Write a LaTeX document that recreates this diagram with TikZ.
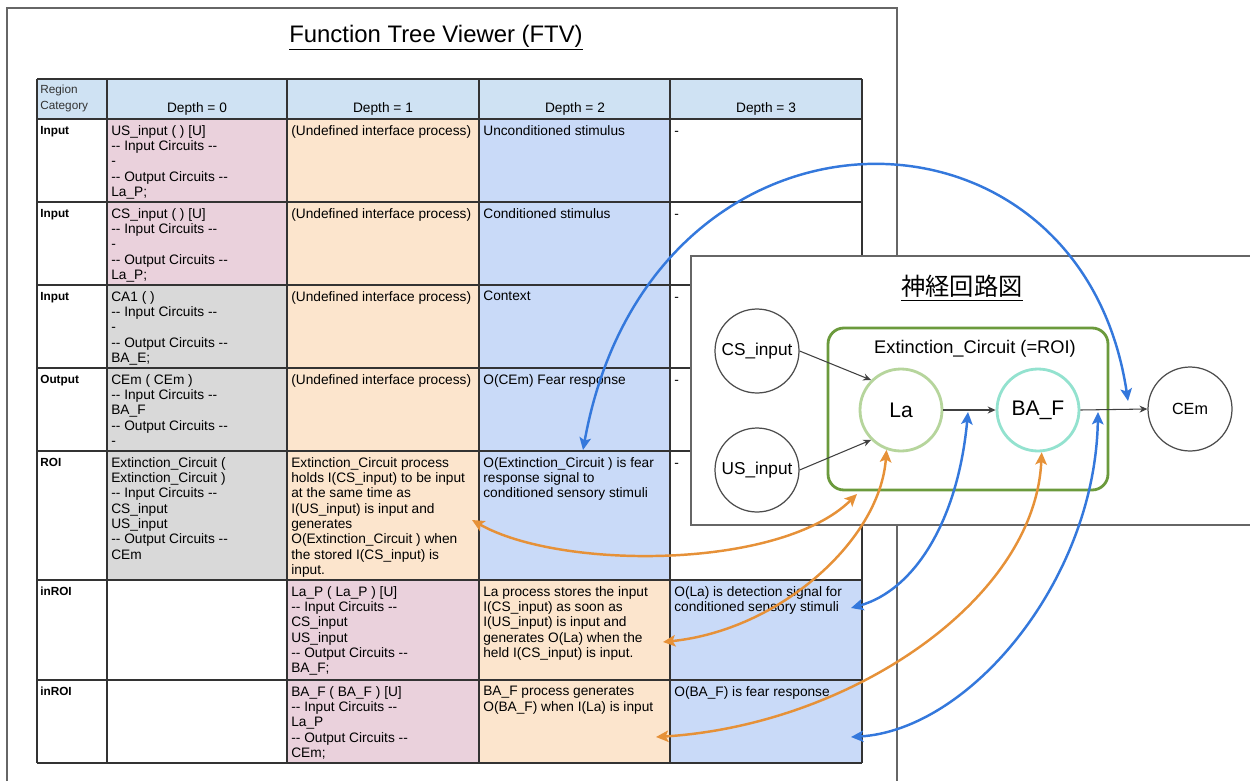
\documentclass[tikz,border=0pt]{standalone}
\usepackage{fontspec}
\setmainfont{Liberation Sans}
\newfontfamily\cjk{Noto Sans CJK JP}
\usetikzlibrary{arrows.meta}

\definecolor{hdrblue}{HTML}{CFE2F3}
\definecolor{cellpink}{HTML}{EAD1DC}
\definecolor{cellorange}{HTML}{FCE5CD}
\definecolor{cellblue}{HTML}{C9DAF8}
\definecolor{cellgray}{HTML}{D9D9D9}
\definecolor{linkblue}{HTML}{3478DC}
\definecolor{linkorange}{HTML}{E69138}
\definecolor{roigreen}{HTML}{6B9A3C}
\definecolor{lagreen}{HTML}{B6D59C}
\definecolor{bafteal}{HTML}{93E2CF}

% two hyphens without the en-dash ligature
\newcommand{\dsh}{-\kern0pt-}

\begin{document}
\begin{tikzpicture}[x=0.02cm, y=-0.02cm,
    cell/.style={anchor=north west, inner sep=0pt, align=left, font=\fontsize{7.8}{8.7}\selectfont},
    cat/.style={anchor=north west, inner sep=0pt, font=\fontsize{6.7}{8}\selectfont\bfseries},
    head/.style={inner sep=0pt, font=\fontsize{7.8}{8.7}\selectfont},
    grid/.style={draw=black!80, line width=0.75pt},
    frame/.style={draw=black!60, line width=1.1pt},
    io/.style={circle, draw=black!70, line width=0.7pt, minimum size=1.68cm, inner sep=0pt, font=\fontsize{9.8}{11}\selectfont},
    proc/.style={circle, line width=1.6pt, minimum size=1.64cm, inner sep=0pt, font=\fontsize{12}{14}\selectfont},
    link/.style={draw=black!75, line width=0.6pt, -{Stealth[length=4.5pt,width=4pt]}},
    bluearr/.style={draw=linkblue, line width=1.4pt, <->, >={Stealth[length=7pt,width=6.5pt,inset=1.5pt]}},
    orangearr/.style={draw=linkorange, line width=1.4pt, <->, >={Stealth[length=7pt,width=6.5pt,inset=1.5pt]}}]
    \useasboundingbox (0,0) rectangle (1250,781);

    % Rahmen und Titel
    \draw[frame] (7,781) -- (7,8) -- (897,8) -- (897,781);
    \node (title) at (436,38) {\fontsize{13.6}{16}\selectfont\underline{Function Tree Viewer (FTV)}};

    % Zellfarben
    \fill[hdrblue] (37,79) rectangle (862,119);
    \fill[cellpink] (107,119) rectangle (287,285);
    \fill[cellgray] (107,285) rectangle (287,580);
    \fill[cellorange] (287,119) rectangle (479,580);
    \fill[cellpink] (287,580) rectangle (479,763);
    \fill[cellblue] (479,119) rectangle (670,580);
    \fill[cellorange] (479,580) rectangle (670,763);
    \fill[cellblue] (670,580) rectangle (862,763);

    % Gitter
    \foreach \x in {37,107,287,479,670,862}
        \draw[grid] (\x,79) -- (\x,763);
    \foreach \y in {79,119,202,285,368,451,580,680,763}
        \draw[grid] (37,\y) -- (862,\y);

    % Kopfzeile
    \node[anchor=north west, inner sep=0pt, align=left, text=black!80, font=\fontsize{6.7}{9}\selectfont] (hcat) at (40,85) {Region\\Category};
    \node[head] (hd0) at (197,109) {Depth = 0};
    \node[head] (hd1) at (383,109) {Depth = 1};
    \node[head] (hd2) at (575,109) {Depth = 2};
    \node[head] (hd3) at (766,109) {Depth = 3};

    % Zeile 1
    \node[cat] (r1c1) at (40,126) {Input};
    \node[cell] (r1c2) at (111,125) {US\_input ( ) [U]\\\dsh{} Input Circuits \dsh\\-\\\dsh{} Output Circuits \dsh\\La\_P;};
    \node[cell] (r1c3) at (291,125) {(Undefined interface process)};
    \node[cell] (r1c4) at (483,125) {Unconditioned stimulus};
    \node[cell] (r1c5) at (674,125) {\vphantom{(}-};

    % Zeile 2
    \node[cat] (r2c1) at (40,209) {Input};
    \node[cell] (r2c2) at (111,208) {CS\_input ( ) [U]\\\dsh{} Input Circuits \dsh\\-\\\dsh{} Output Circuits \dsh\\La\_P;};
    \node[cell] (r2c3) at (291,208) {(Undefined interface process)};
    \node[cell] (r2c4) at (483,208) {Conditioned stimulus};
    \node[cell] (r2c5) at (674,208) {\vphantom{(}-};

    % Zeile 3
    \node[cat] (r3c1) at (40,292) {Input};
    \node[cell] (r3c2) at (111,291) {CA1 ( )\\\dsh{} Input Circuits \dsh\\-\\\dsh{} Output Circuits \dsh\\BA\_E;};
    \node[cell] (r3c3) at (291,291) {(Undefined interface process)};
    \node[cell] (r3c4) at (483,291) {Context};
    \node[cell] (r3c5) at (674,291) {\vphantom{(}-};

    % Zeile 4
    \node[cat] (r4c1) at (40,375) {Output};
    \node[cell] (r4c2) at (111,374) {CEm ( CEm )\\\dsh{} Input Circuits \dsh\\BA\_F\\\dsh{} Output Circuits \dsh\\-};
    \node[cell] (r4c3) at (291,374) {(Undefined interface process)};
    \node[cell] (r4c4) at (483,374) {O(CEm) Fear response};
    \node[cell] (r4c5) at (674,374) {\vphantom{(}-};

    % Zeile 5
    \node[cat] (r5c1) at (40,458) {ROI};
    \node[cell] (r5c2) at (111,457) {Extinction\_Circuit (\\Extinction\_Circuit )\\\dsh{} Input Circuits \dsh\\CS\_input\\US\_input\\\dsh{} Output Circuits \dsh\\CEm};
    \node[cell] (r5c3) at (291,457) {Extinction\_Circuit process\\holds I(CS\_input) to be input\\at the same time as\\I(US\_input) is input and\\generates\\O(Extinction\_Circuit ) when\\the stored I(CS\_input) is\\input.};
    \node[cell] (r5c4) at (483,457) {O(Extinction\_Circuit ) is fear\\response signal to\\conditioned sensory stimuli};
    \node[cell] (r5c5) at (674,457) {\vphantom{(}-};

    % Zeile 6
    \node[cat] (r6c1) at (40,587) {inROI};
    \node[cell] (r6c3) at (291,586) {La\_P ( La\_P ) [U]\\\dsh{} Input Circuits \dsh\\CS\_input\\US\_input\\\dsh{} Output Circuits \dsh\\BA\_F;};
    \node[cell] (r6c4) at (483,586) {La process stores the input\\I(CS\_input) as soon as\\I(US\_input) is input and\\generates O(La) when the\\held I(CS\_input) is input.};
    \node[cell] (r6c5) at (674,586) {O(La) is detection signal for\\conditioned sensory stimuli};

    % Zeile 7
    \node[cat] (r7c1) at (40,687) {inROI};
    \node[cell] (r7c3) at (291,686) {BA\_F ( BA\_F ) [U]\\\dsh{} Input Circuits \dsh\\La\_P\\\dsh{} Output Circuits \dsh\\CEm;};
    \node[cell] (r7c4) at (483,686) {BA\_F process generates\\O(BA\_F) when I(La) is input};
    \node[cell] (r7c5) at (674,686) {O(BA\_F) is fear response};

    % Neuronales Netz
    \fill[white] (691,256) rectangle (1250,525);
    \draw[frame] (1250,256) -- (691,256) -- (691,525) -- (1250,525);
    \node (ntitle) at (962,288) {\fontsize{13.8}{16}\selectfont\underline{\cjk 神経回路図}};
    \node[draw=roigreen, line width=1.6pt, rounded corners=9pt, minimum width=5.6cm, minimum height=3.24cm] (roi) at (968,409) {};
    \node[font=\fontsize{10.4}{12}\selectfont] (roilabel) at (975,349) {Extinction\_Circuit (=ROI)};
    \node[io] (cs) at (757,351) {CS\_input};
    \node[io] (us) at (757,470) {US\_input};
    \node[proc, draw=lagreen] (la) at (901,410) {La};
    \node[proc, draw=bafteal] (baf) at (1038,410) {BA\_F};
    \node[io, font=\fontsize{9.2}{11}\selectfont] (cem) at (1190,409) {CEm};
    \draw[link] (cs.east) -- (la.north west);
    \draw[link] (us.east) -- (la.south west);
    \draw[link] (la.east) -- (baf.west);
    \draw[link] (baf.east) -- (cem.west);

    % Verweise
    \coordinate (fearsig) at (583,450);
    \coordinate (roiout) at (1128,401);
    \coordinate (ladet) at (851,608);
    \coordinate (laout) at (968,412);
    \coordinate (baffear) at (851,737);
    \coordinate (bafout) at (1098,412);
    \coordinate (roiproc) at (472,520);
    \coordinate (roicorner) at (857,494);
    \coordinate (laproc) at (663,642);
    \coordinate (bafproc) at (656,737);
    \draw[bluearr] (fearsig) .. controls (650,80) and (1080,80) .. (roiout);
    \draw[bluearr] (ladet) .. controls (915,590) and (958,520) .. (laout);
    \draw[bluearr] (baffear) .. controls (970,730) and (1095,580) .. (bafout);
    \draw[orangearr] (roiproc) .. controls (560,570) and (780,570) .. (roicorner);
    \draw[orangearr] (laproc) .. controls (780,630) and (880,540) .. (la.250);
    \draw[orangearr] (bafproc) .. controls (850,725) and (1035,600) .. (baf.275);
\end{tikzpicture}
\end{document}
